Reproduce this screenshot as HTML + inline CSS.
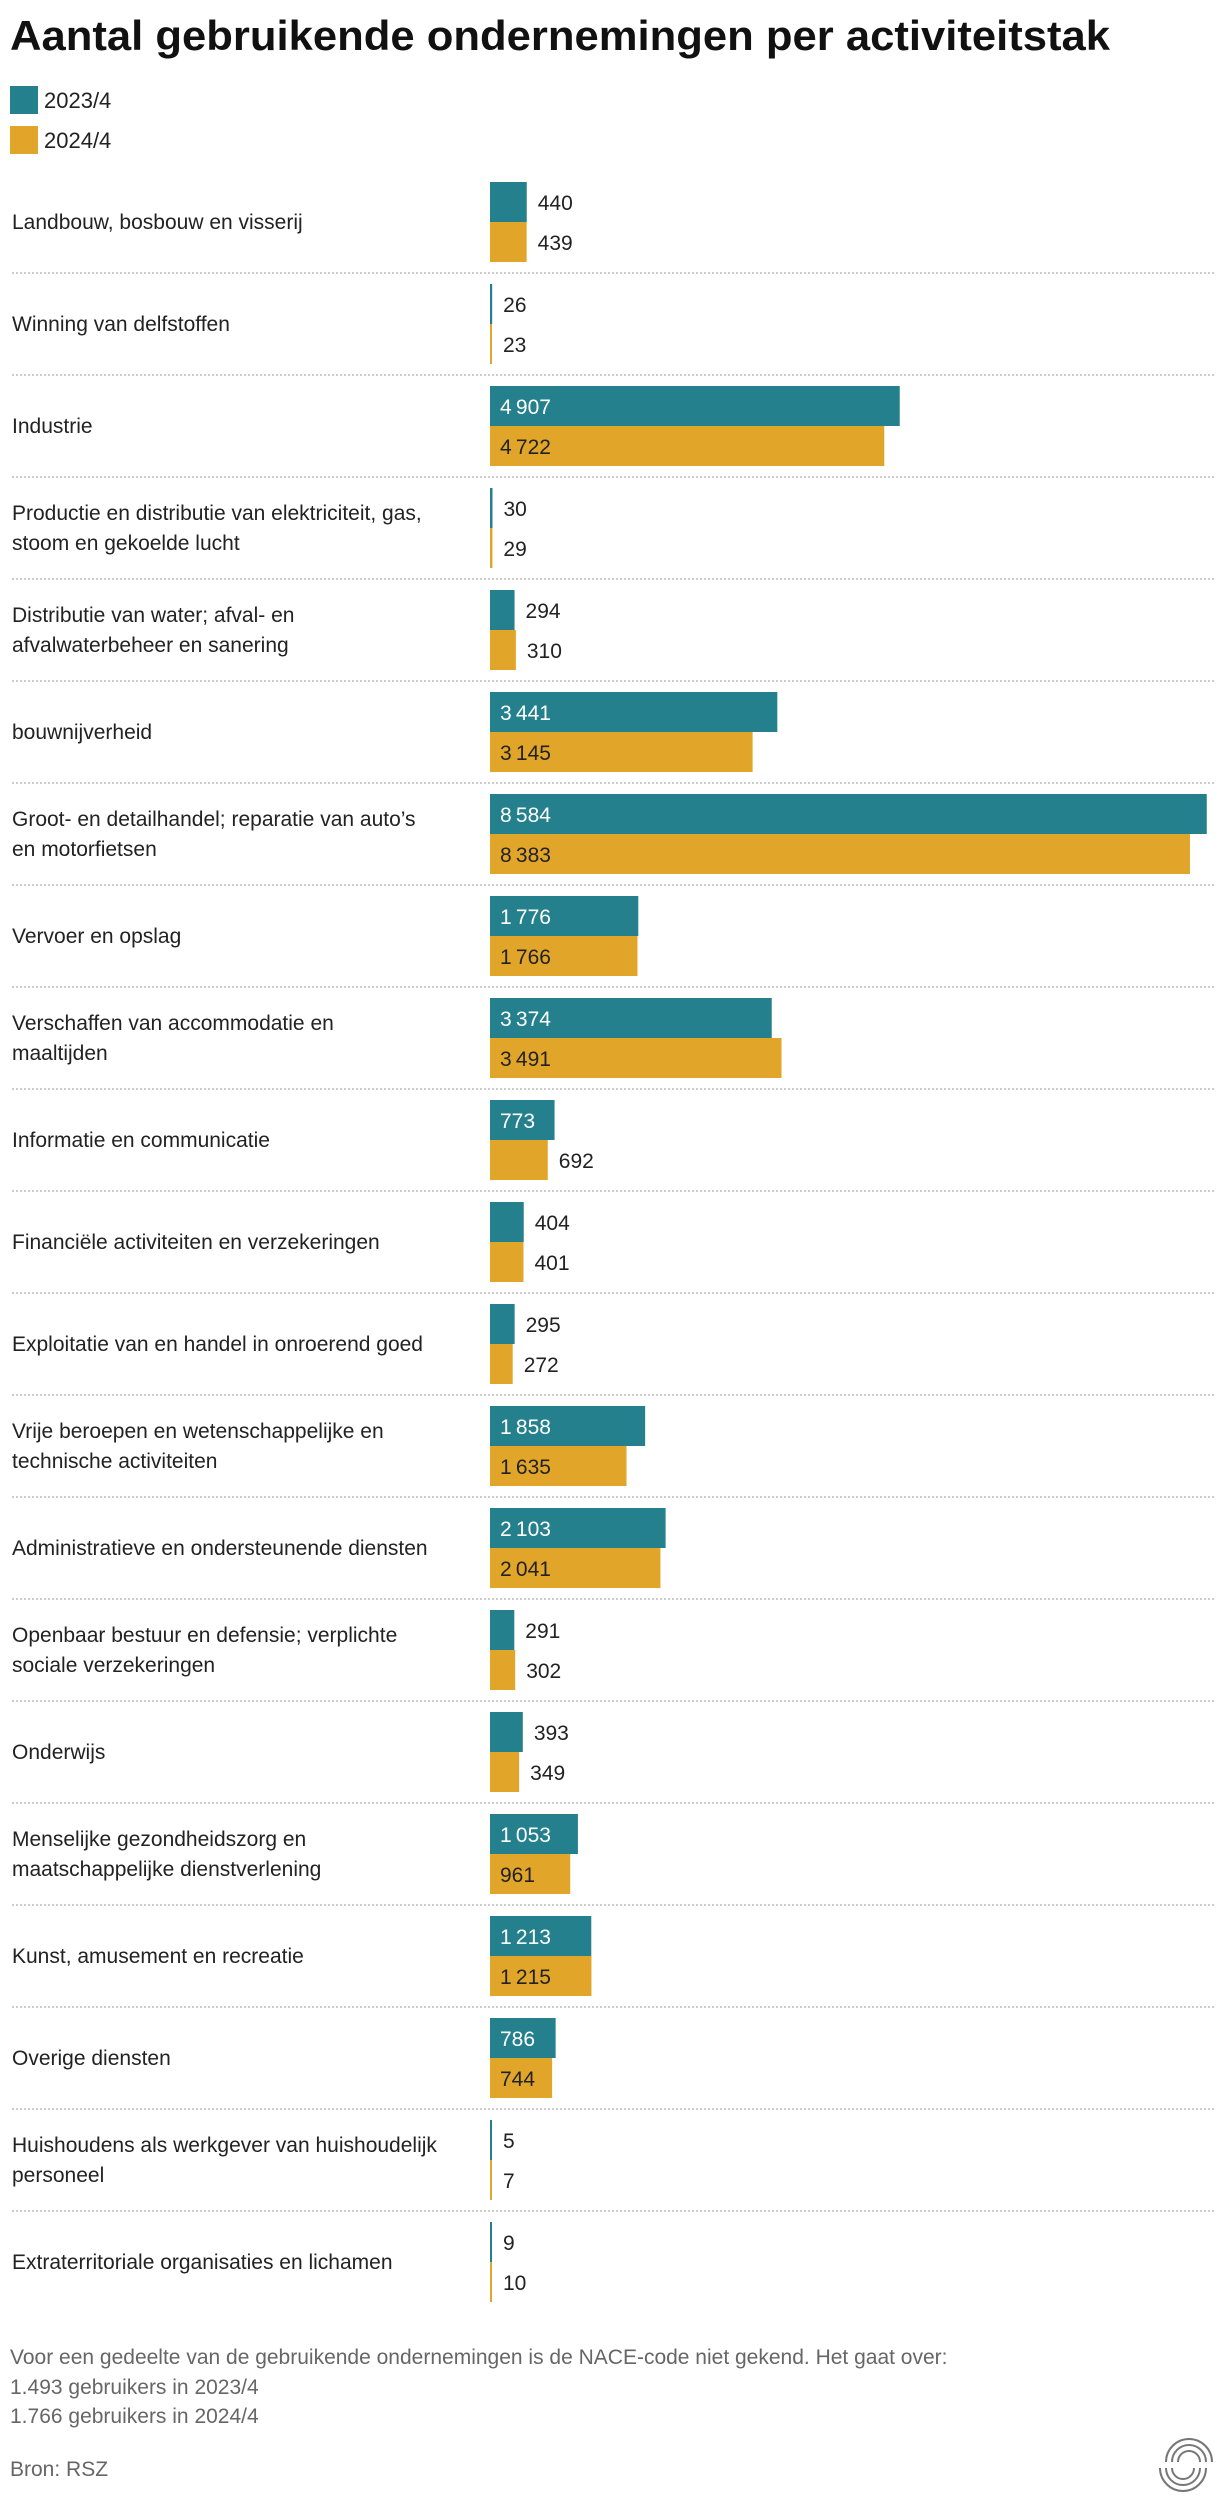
<!DOCTYPE html>
<html><head><meta charset="utf-8"><style>
html,body{margin:0;padding:0;background:#fff;}
svg{display:block;font-family:"Liberation Sans",sans-serif;}
</style></head><body>
<svg id="chart" width="1220" height="2508" viewBox="0 0 1220 2508" xmlns="http://www.w3.org/2000/svg">
<text x="10" y="50" font-size="42" font-weight="bold" fill="#111" textLength="1100" lengthAdjust="spacingAndGlyphs">Aantal gebruikende ondernemingen per activiteitstak</text>
<g>
<rect x="10" y="86" width="28" height="28" fill="#24808c"/>
<text x="44" y="108" font-size="22" fill="#222">2023/4</text>
<rect x="10" y="126" width="28" height="28" fill="#e1a629"/>
<text x="44" y="148" font-size="22" fill="#222">2024/4</text>
</g>
<g id="rows"></g>
<g font-size="21" fill="#666">
<text x="10" y="2364">Voor een gedeelte van de gebruikende ondernemingen is de NACE-code niet gekend. Het gaat over:</text>
<text x="10" y="2394">1.493 gebruikers in 2023/4</text>
<text x="10" y="2423">1.766 gebruikers in 2024/4</text>
<text x="10" y="2476">Bron: RSZ</text>
</g>
<g fill="none" stroke="#777" stroke-width="2">
<path d="M1172 2462 A17 17 0 0 1 1206 2462"/><path d="M1166 2462 A23 23 0 0 1 1212 2462"/><path d="M1178 2462 A11 11 0 0 1 1200 2462"/>
<path d="M1160 2468 A23 23 0 0 0 1206 2468"/><path d="M1166 2468 A17 17 0 0 0 1200 2468"/><path d="M1172 2468 A11 11 0 0 0 1194 2468"/>
</g>
</svg>
<script>
const categories = [
 ["Landbouw, bosbouw en visserij"],
 ["Winning van delfstoffen"],
 ["Industrie"],
 ["Productie en distributie van elektriciteit, gas,","stoom en gekoelde lucht"],
 ["Distributie van water; afval- en","afvalwaterbeheer en sanering"],
 ["bouwnijverheid"],
 ["Groot- en detailhandel; reparatie van auto’s","en motorfietsen"],
 ["Vervoer en opslag"],
 ["Verschaffen van accommodatie en","maaltijden"],
 ["Informatie en communicatie"],
 ["Financiële activiteiten en verzekeringen"],
 ["Exploitatie van en handel in onroerend goed"],
 ["Vrije beroepen en wetenschappelijke en","technische activiteiten"],
 ["Administratieve en ondersteunende diensten"],
 ["Openbaar bestuur en defensie; verplichte","sociale verzekeringen"],
 ["Onderwijs"],
 ["Menselijke gezondheidszorg en","maatschappelijke dienstverlening"],
 ["Kunst, amusement en recreatie"],
 ["Overige diensten"],
 ["Huishoudens als werkgever van huishoudelijk","personeel"],
 ["Extraterritoriale organisaties en lichamen"]
];
const values2023 = [440,26,4907,30,294,3441,8584,1776,3374,773,404,295,1858,2103,291,393,1053,1213,786,5,9];
const values2024 = [439,23,4722,29,310,3145,8383,1766,3491,692,401,272,1635,2041,302,349,961,1215,744,7,10];
const seriesNames = ["2023", "2024"];

const NS="http://www.w3.org/2000/svg";
const x0=490, scale=0.0835, top0=182, pitch=102, barH=40;
const xScale=v=>v*scale;
const fmt=v=>{const s=String(v);return s.length>3?s.slice(0,-3)+"\u2009"+s.slice(-3):s;};
const g=document.getElementById("rows");
function mk(tag,attrs){const e=document.createElementNS(NS,tag);for(const k in attrs)e.setAttribute(k,attrs[k]);return e;}
categories.forEach((lines,i)=>{
  const top=top0+i*pitch, cy=top+barH;
  const row=mk("g",{});
  
  
  lines.forEach((ln,j)=>{
    const t=mk("text",{x:12,y:cy+7+(lines.length===2?(j===0?-15:15):0),"font-size":21,fill:"#222"});
    t.textContent=ln;
    
    
    row.appendChild(t);
  });
  [values2023[i],values2024[i]].forEach((v,s)=>{
    const w=Math.max(xScale(v),2), y=top+s*barH;
    const r=mk("rect",{x:x0,y:y,width:w,height:barH,fill:s===0?"#24808c":"#e1a629"});
    
    
    row.appendChild(r);
    const inside=w>60;
    const t=mk("text",{x:inside?x0+10:x0+w+11,y:y+28,"font-size":21,fill:inside&&s===0?"#fff":"#222"});
    t.textContent=fmt(v);
    
    
    row.appendChild(t);
  });
  if(i<categories.length-1){
    const l=mk("line",{x1:12,x2:1216,y1:top+91,y2:top+91,stroke:"#ccc","stroke-width":2,"stroke-dasharray":"2 2"});
    
    
    row.appendChild(l);
  }
  g.appendChild(row);
});
</script>
</body></html>
